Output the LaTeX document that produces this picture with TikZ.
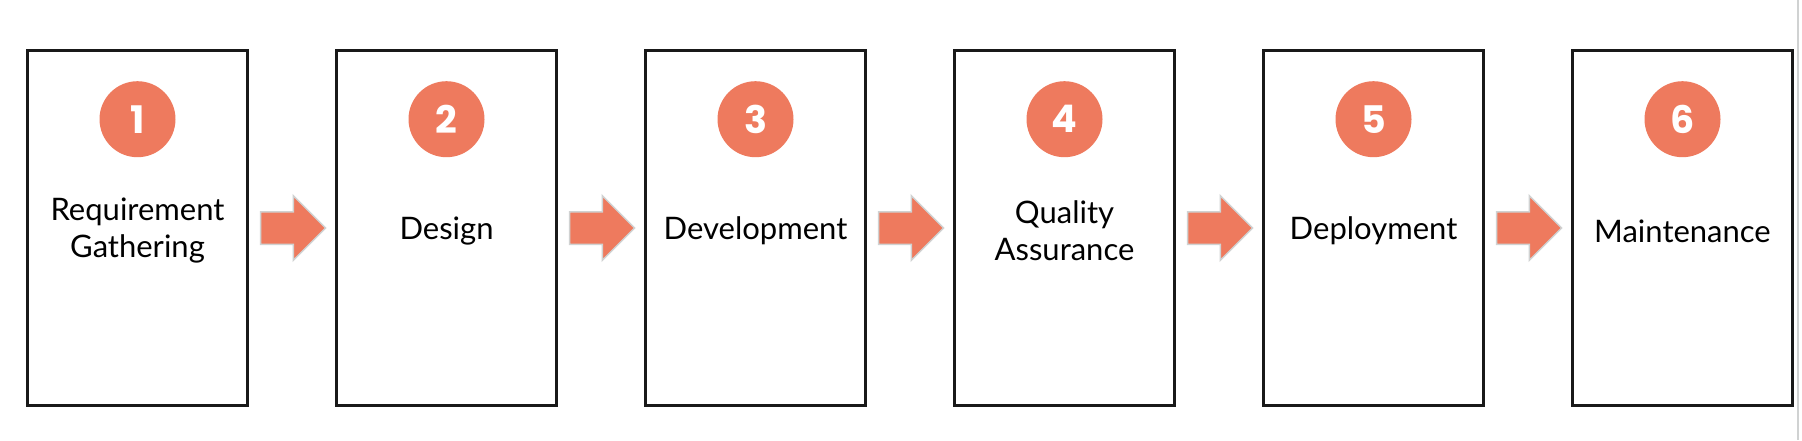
\documentclass[tikz,border=0pt]{standalone}
\usepackage{fontspec}
\setmainfont{Lato}
\newfontfamily\numfont{Poppins}
\usetikzlibrary{shapes.arrows,calc}
\definecolor{stepred}{RGB}{238,122,94}
\definecolor{edgegray}{RGB}{208,210,210}
\tikzset{
  stagebox/.style={draw=black!90, line width=2.6pt, minimum width=220pt, minimum height=355pt, inner sep=0pt},
  stepnum/.style={circle, fill=stepred, minimum size=76pt, inner sep=0pt, text=white, font=\numfont\bfseries\fontsize{38}{40}\selectfont},
  stagelabel/.style={align=center, inner sep=0pt, font=\fontsize{31}{37}\selectfont},
  flowarrow/.style={single arrow, fill=stepred, draw=edgegray, line width=1.5pt, minimum height=65pt, inner xsep=0pt, inner ysep=15.5pt, single arrow head extend=16pt, single arrow tip angle=90, xshift=-7pt}
}
\begin{document}
\begin{tikzpicture}[x=1pt, y=-1pt]
    \useasboundingbox[fill=white] (0,0) rectangle (1802,440);
    \draw[edgegray, line width=2pt] (1798,0) -- (1798,440);
    % stages
    \node[stagebox] (box1) at (137.5,228) {};
    \node[stagebox] (box2) at (446.5,228) {};
    \node[stagebox] (box3) at (755.5,228) {};
    \node[stagebox] (box4) at (1064.5,228) {};
    \node[stagebox] (box5) at (1373.5,228) {};
    \node[stagebox] (box6) at (1682.5,228) {};
    % numbers
    \node[stepnum] (num1) at ([yshift=-70pt]box1.north) {1};
    \node[stepnum] (num2) at ([yshift=-70pt]box2.north) {2};
    \node[stepnum] (num3) at ([yshift=-70pt]box3.north) {3};
    \node[stepnum] (num4) at ([yshift=-70pt]box4.north) {4};
    \node[stepnum] (num5) at ([yshift=-70pt]box5.north) {5};
    \node[stepnum] (num6) at ([yshift=-70pt]box6.north) {6};
    % labels
    \node[stagelabel] (lab1) at ([yshift=-3pt]box1.center) {Requirement\\Gathering};
    \node[stagelabel] (lab2) at ([yshift=-3pt]box2.center) {Design};
    \node[stagelabel] (lab3) at ([yshift=-3pt]box3.center) {Development};
    \node[stagelabel] (lab4) at ([yshift=-3pt]box4.center) {Quality\\Assurance};
    \node[stagelabel] (lab5) at ([yshift=-3pt]box5.center) {Deployment};
    \node[stagelabel] (lab6) at ([yshift=-3pt]box6.center) {Maintenance};
    % arrows between stages
    \node[flowarrow] (arr1) at ($(box1.east)!0.5!(box2.west)$) {};
    \node[flowarrow] (arr2) at ($(box2.east)!0.5!(box3.west)$) {};
    \node[flowarrow] (arr3) at ($(box3.east)!0.5!(box4.west)$) {};
    \node[flowarrow] (arr4) at ($(box4.east)!0.5!(box5.west)$) {};
    \node[flowarrow] (arr5) at ($(box5.east)!0.5!(box6.west)$) {};
\end{tikzpicture}
\end{document}
